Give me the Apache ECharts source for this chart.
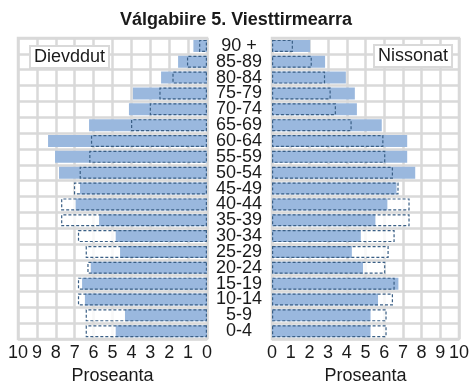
<!DOCTYPE html>
<html>
<head>
<meta charset="utf-8">
<script src="https://cdn.jsdelivr.net/npm/echarts@6/dist/echarts.min.js"></script>
<style>
  html, body { margin: 0; padding: 0; background: #fff; }
  #chartBox { width: 472px; height: 390px; }
</style>
</head>
<body>
<div id="chartBox"></div>
<script>
// ahkejoavkkut, vuolimus vuos bajimussii
const ageGroups = ['0-4', '5-9', '10-14', '15-19', '20-24', '25-29', '30-34', '35-39', '40-44',
  '45-49', '50-54', '55-59', '60-64', '65-69', '70-74', '75-79', '80-84', '85-89', '90 +'];

// Dievddut (proseanta)
const menValues = [4.83, 4.34, 6.46, 6.61, 6.15, 4.6, 4.83, 5.71, 6.95,
  6.72, 7.83, 8.04, 8.41, 6.24, 4.13, 3.92, 2.43, 1.53, 0.72];
const menCompare = [6.42, 6.42, 6.83, 6.83, 6.33, 6.42, 6.83, 7.72, 7.72,
  7.04, 6.74, 6.23, 6.14, 4.02, 3.03, 2.52, 1.83, 1.06, 0.42];

// Nissonat (proseanta)
const womenValues = [5.27, 5.27, 5.67, 6.76, 4.87, 4.27, 4.75, 5.53, 6.17,
  6.66, 7.66, 7.23, 7.23, 5.87, 4.54, 4.43, 3.95, 2.84, 2.04];
const womenCompare = [6.13, 6.13, 6.47, 6.56, 6.06, 6.24, 6.56, 7.36, 7.36,
  6.77, 6.47, 6.06, 5.96, 4.26, 3.42, 3.14, 2.84, 2.13, 1.12];

const axisTicks = [0, 1, 2, 3, 4, 5, 6, 7, 8, 9, 10];

const gridColor = '#d9d9d9';
const barColor = '#9ab8de';
const dashColor = '#3a5f85';
const textColor = '#1a1a1a';
const font = 'Arial, "Liberation Sans", sans-serif';

function valueAxis(gridIndex, inverse) {
  return {
    type: 'value',
    gridIndex: gridIndex,
    inverse: inverse,
    min: axisTicks[0],
    max: axisTicks[axisTicks.length - 1],
    interval: 1,
    name: 'Proseanta',
    nameLocation: 'middle',
    nameGap: 22,
    nameTextStyle: { color: textColor, fontSize: 18, fontFamily: font },
    axisLine: { show: false },
    axisTick: { show: false },
    axisLabel: { color: textColor, fontSize: 18, fontFamily: font, margin: 5 },
    splitLine: { show: true, lineStyle: { color: gridColor, width: 2.5 } }
  };
}

function catAxis(gridIndex, showLabels) {
  return {
    type: 'category',
    gridIndex: gridIndex,
    data: ageGroups,
    axisLine: { show: false },
    axisTick: { show: false },
    axisLabel: {
      show: showLabels,
      interval: 0,
      color: textColor,
      fontSize: 18,
      lineHeight: 16,
      fontFamily: font,
      align: 'center',
      margin: 33
    },
    splitLine: { show: true, interval: 0, lineStyle: { color: gridColor, width: 2.5 } }
  };
}

function barSeries(idx, values, kind) {
  const s = {
    type: 'bar',
    xAxisIndex: idx,
    yAxisIndex: idx,
    data: values,
    barWidth: 12,
    barGap: '-100%',
    silent: true
  };
  if (kind === 'under') {
    s.itemStyle = { color: 'rgba(255,255,255,0.8)' };
    s.z = 2;
  } else if (kind === 'main') {
    s.itemStyle = { color: barColor };
    s.z = 3;
  } else {
    s.itemStyle = { color: 'rgba(0,0,0,0)', borderColor: dashColor, borderWidth: 1.2, borderType: [3, 2] };
    s.z = 4;
  }
  return s;
}

const chart = echarts.init(document.getElementById('chartBox'));
chart.setOption({
  animation: false,
  title: {
    text: 'Válgabiire 5. Viesttirmearra',
    left: 'center',
    top: 6,
    textStyle: { color: textColor, fontSize: 18, fontWeight: 'bold', fontFamily: font }
  },
  grid: [
    { left: 18, right: 265, top: 38, bottom: 40, show: true, borderColor: gridColor, borderWidth: 2.5 },
    { left: 272, right: 12, top: 38, bottom: 40, show: true, borderColor: gridColor, borderWidth: 2.5 }
  ],
  xAxis: [valueAxis(0, true), valueAxis(1, false)],
  yAxis: [catAxis(0, false), catAxis(1, true)],
  graphic: [
    {
      type: 'text', left: 29, top: 45, z: 10,
      style: {
        text: 'Dievddut', fill: textColor, fontSize: 18, fontFamily: font,
        backgroundColor: '#fff', borderColor: gridColor, borderWidth: 2, padding: [1, 3, 1, 3]
      }
    },
    {
      type: 'text', left: 373, top: 44, z: 10,
      style: {
        text: 'Nissonat', fill: textColor, fontSize: 18, fontFamily: font,
        backgroundColor: '#fff', borderColor: gridColor, borderWidth: 2, padding: [1, 3, 1, 3]
      }
    }
  ],
  series: [
    barSeries(0, menCompare, 'under'),
    barSeries(0, menValues, 'main'),
    barSeries(0, menCompare, 'dash'),
    barSeries(1, womenCompare, 'under'),
    barSeries(1, womenValues, 'main'),
    barSeries(1, womenCompare, 'dash')
  ]
});
</script>
</body>
</html>
